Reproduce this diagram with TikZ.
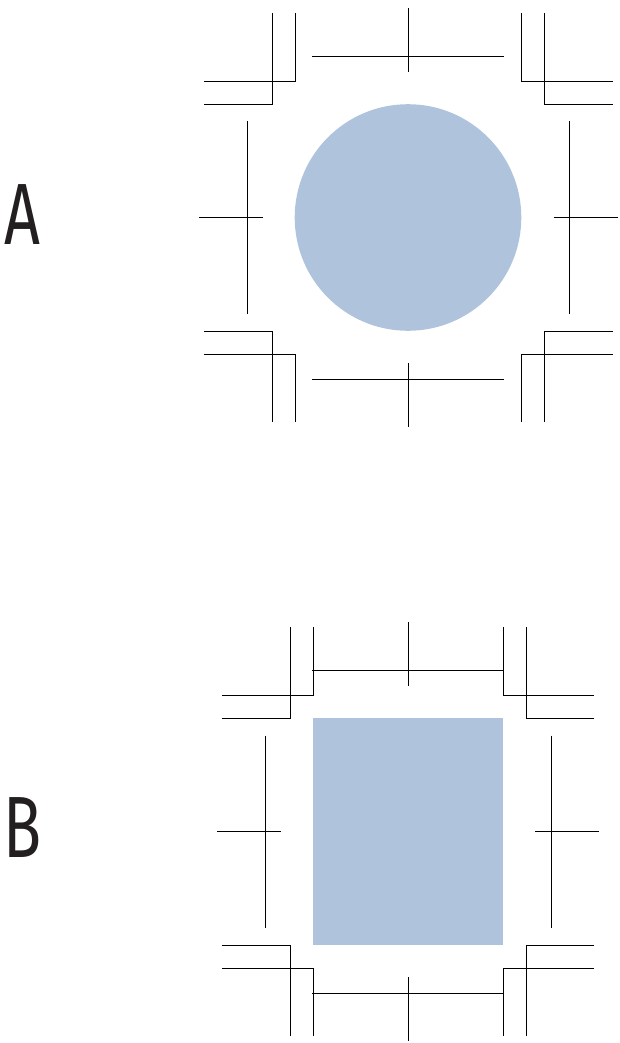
\documentclass[tikz,border=0pt]{standalone}
\usepackage{fontspec}
\usepackage{tikz}
\usetikzlibrary{positioning,shapes.geometric}

\newfontfamily\labelfont{Fira Sans}
\definecolor{paleblue}{RGB}{175,196,220}
\definecolor{inkgray}{RGB}{35,31,32}

% trim and bleed marks round a box: left, top, right, bottom
\newcommand{\trimmarks}[4]{%
  \pgfmathsetmacro{\midx}{(#1+#3)/2}
  \pgfmathsetmacro{\midy}{(#2+#4)/2}
  %% corners
  \draw[cropline] (#1,#2-91) -- (#1,#2-23) -- (#1-91,#2-23);
  \draw[cropline] (#1-23,#2-91) -- (#1-23,#2) -- (#1-91,#2);
  \draw[cropline] (#3,#2-91) -- (#3,#2-23) -- (#3+91,#2-23);
  \draw[cropline] (#3+23,#2-91) -- (#3+23,#2) -- (#3+91,#2);
  \draw[cropline] (#1,#4+91) -- (#1,#4+23) -- (#1-91,#4+23);
  \draw[cropline] (#1-23,#4+91) -- (#1-23,#4) -- (#1-91,#4);
  \draw[cropline] (#3,#4+91) -- (#3,#4+23) -- (#3+91,#4+23);
  \draw[cropline] (#3+23,#4+91) -- (#3+23,#4) -- (#3+91,#4);
  %% centre marks
  \draw[cropline] (\midx-96,#2-48) -- (\midx+96,#2-48);
  \draw[cropline] (\midx,#2-96) -- (\midx,#2-32);
  \draw[cropline] (\midx-96,#4+48) -- (\midx+96,#4+48);
  \draw[cropline] (\midx,#4+32) -- (\midx,#4+96);
  \draw[cropline] (#1-48,\midy-96) -- (#1-48,\midy+96);
  \draw[cropline] (#1-96,\midy) -- (#1-32,\midy);
  \draw[cropline] (#3+48,\midy-96) -- (#3+48,\midy+96);
  \draw[cropline] (#3+32,\midy) -- (#3+96,\midy);
}

\begin{document}
\begin{tikzpicture}[%
  x=1pt,
  y=-1pt,
  cropline/.style={
    black,
    line width=0.8pt,},
  panel/.style={
    fill=paleblue,
    draw=none,
    inner sep=0pt,},
  letter/.style={
    font=\labelfont\fontsize{87}{87}\selectfont,
    text=inkgray,
    inner sep=0pt,
    xscale=0.72,}
  ]
  \useasboundingbox (0,0) rectangle (619,1043);
  %% Nodes
  \node[letter] (labA) at (22,215) {A};
  \node[letter] (labB) at (23,828) {B};
  \node[panel, circle, minimum size=226.6pt] (disc) at (408,217.5) {};
  \node[panel, rectangle, minimum width=190pt, minimum height=227pt] (sheet) at (408,831.5) {};
  %% Marks
  \trimmarks{295}{104}{521.6}{331}
  \trimmarks{313}{718}{503}{945}
\end{tikzpicture}
\end{document}
